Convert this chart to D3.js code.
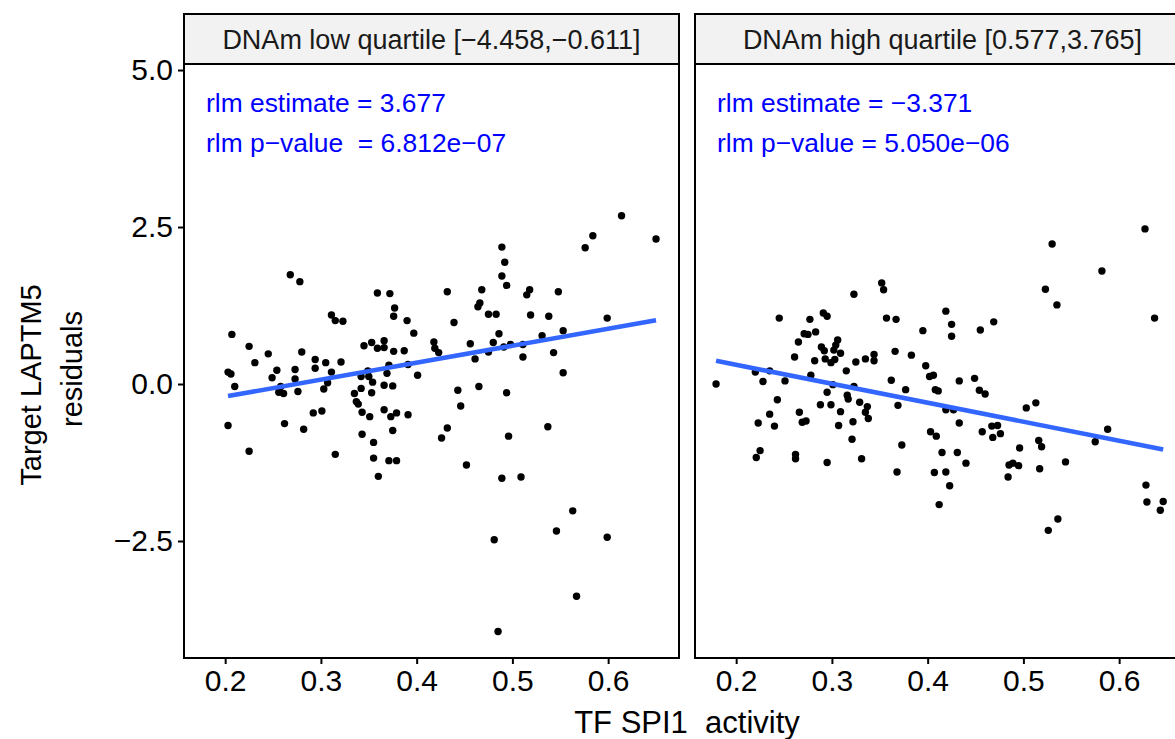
<!DOCTYPE html>
<html>
<head>
<meta charset="utf-8">
<script src="https://cdn.jsdelivr.net/npm/d3@7"></script>
<style>
body { margin: 0; background: #fff; }
text { font-family: "Liberation Sans", Arial, Helvetica, sans-serif; }
</style>
</head>
<body>
<script>
// SPI1 activity vs LAPTM5 residuals, DNAm low quartile
var lowX = [0.268,0.278,0.359,0.372,0.377,0.376,0.311,0.315,0.323,0.390,
  0.397,0.207,0.225,0.245,0.280,0.231,0.294,0.305,0.321,0.345,
  0.353,0.359,0.366,0.366,0.376,0.387,0.418,0.419,0.423,0.203,
  0.206,0.254,0.273,0.294,0.311,0.249,0.273,0.210,0.258,0.256,
  0.261,0.276,0.307,0.303,0.349,0.342,0.350,0.354,0.371,0.369,
  0.391,0.401,0.366,0.375,0.342,0.335,0.353,0.337,0.339,0.343,
  0.351,0.366,0.373,0.379,0.391,0.292,0.301,0.203,0.262,0.282,
  0.375,0.343,0.355,0.225,0.315,0.355,0.371,0.379,0.360,
  0.614,0.584,0.576,0.650,0.489,0.492,0.489,0.494,0.432,0.468,
  0.466,0.464,0.518,0.515,0.548,0.439,0.475,0.483,0.519,0.538,
  0.599,0.486,0.456,0.480,0.475,0.491,0.498,0.511,0.531,0.553,
  0.461,0.511,0.543,0.553,0.443,0.465,0.494,0.446,0.432,0.426,
  0.496,0.537,0.452,0.489,0.509,0.563,0.546,0.481,0.599,0.567,0.485];
var lowY = [1.74,1.63,1.45,1.44,1.21,1.08,1.10,1.01,1.00,1.01,
  0.81,0.79,0.60,0.48,0.51,0.34,0.39,0.34,0.35,0.61,
  0.66,0.57,0.69,0.58,0.52,0.53,0.67,0.57,0.50,0.19,
  0.16,0.22,0.23,0.25,0.19,0.10,0.08,-0.04,-0.04,-0.13,
  -0.15,-0.12,0.02,-0.08,0.21,0.12,0.12,0.03,0.30,0.17,
  0.31,0.14,-0.02,-0.03,-0.07,-0.15,-0.14,-0.28,-0.32,-0.45,
  -0.52,-0.41,-0.52,-0.46,-0.49,-0.46,-0.43,-0.66,-0.63,-0.72,
  -0.74,-0.80,-0.93,-1.07,-1.12,-1.18,-1.22,-1.22,-1.47,
  2.68,2.36,2.17,2.31,2.18,1.94,1.72,1.57,1.47,1.50,
  1.29,1.23,1.50,1.42,1.47,0.98,1.11,1.11,1.10,1.08,
  1.05,0.80,0.64,0.66,0.51,0.59,0.63,0.63,0.77,0.85,
  0.40,0.43,0.50,0.18,-0.10,-0.04,-0.14,-0.35,-0.70,-0.86,
  -0.83,-0.68,-1.29,-1.50,-1.48,-2.02,-2.34,-2.48,-2.44,-3.38,-3.94];

// DNAm high quartile
var highX = [0.627,0.530,0.582,0.523,0.535,0.637,0.352,0.354,0.323,0.245,
  0.277,0.291,0.295,0.357,0.367,0.419,0.395,0.425,0.425,0.455,
  0.469,0.283,0.271,0.275,0.265,0.289,0.292,0.306,0.304,0.302,
  0.309,0.261,0.282,0.293,0.299,0.303,0.325,0.335,0.344,0.344,
  0.366,0.383,0.398,0.402,0.406,0.315,0.220,0.235,0.228,0.251,
  0.278,0.179,0.301,0.323,0.362,0.295,0.316,0.317,0.377,0.408,
  0.411,0.243,0.288,0.299,0.329,0.337,0.369,0.235,0.266,0.309,
  0.335,0.338,0.223,0.240,0.269,0.273,0.307,0.322,0.403,0.409,
  0.419,0.427,0.321,0.373,0.225,0.221,0.262,0.262,0.295,0.331,
  0.368,0.407,0.419,0.423,0.412,0.415,0.431,0.440,0.433,0.449,
  0.454,0.460,0.503,0.513,0.433,0.457,0.467,0.473,0.476,0.468,
  0.516,0.519,0.496,0.588,0.575,0.485,0.489,0.495,0.484,0.517,
  0.544,0.536,0.526,0.628,0.629,0.646,0.643];
var highY = [2.47,2.23,1.80,1.51,1.26,1.05,1.61,1.50,1.43,1.05,
  1.03,1.13,1.08,1.05,1.03,1.16,0.85,0.95,0.76,0.86,
  0.99,0.83,0.80,0.79,0.67,0.59,0.53,0.70,0.62,0.54,
  0.49,0.43,0.37,0.40,0.34,0.39,0.35,0.40,0.47,0.37,
  0.52,0.46,0.29,0.12,0.14,0.21,0.19,0.21,0.04,0.05,
  0.14,0.00,-0.01,-0.04,0.06,-0.13,-0.18,-0.24,-0.09,-0.09,
  -0.11,-0.25,-0.33,-0.33,-0.29,-0.36,-0.34,-0.48,-0.45,-0.44,
  -0.45,-0.55,-0.62,-0.67,-0.61,-0.59,-0.66,-0.60,-0.76,-0.83,
  -0.41,-0.41,-0.88,-0.97,-1.06,-1.17,-1.12,-1.19,-1.25,-1.19,
  -1.40,-1.41,-1.40,-1.62,-1.92,-1.09,-1.09,-1.26,0.05,0.09,
  -0.10,-0.16,-0.38,-0.30,-0.62,-0.76,-0.67,-0.66,-0.79,-0.85,
  -0.90,-1.00,-1.02,-0.72,-0.92,-1.29,-1.26,-1.30,-1.48,-1.35,
  -1.24,-2.15,-2.33,-1.61,-1.88,-1.87,-2.01];

// fitted lines: [intercept, slope]
var lowFit = [-0.740, 2.70];
var highFit = [0.910, -3.02];

var stripLabels = ["DNAm low quartile [\u22124.458,\u22120.611]", "DNAm high quartile [0.577,3.765]"];
var statLabels = [
  ["rlm estimate = 3.677", "rlm p\u2212value  = 6.812e\u221207"],
  ["rlm estimate = \u22123.371", "rlm p\u2212value = 5.050e\u221206"]
];
var xTicks = [0.2, 0.3, 0.4, 0.5, 0.6];
var yTicks = [-2.5, 0, 2.5, 5];

var W = 1175, H = 739;
var panelW = 495, panelTop = 64, panelBottom = 658, stripTop = 14;
var panelLefts = [184, 695];

var svg = d3.select("body").append("svg")
  .attr("width", W)
  .attr("height", H);

var x = d3.scaleLinear().domain([0.157, 0.674]).range([0, panelW]);
var y = d3.scaleLinear().domain([-4.363, 5.096]).range([panelBottom, panelTop]);

var panels = [
  { xs: lowX, ys: lowY, fit: lowFit },
  { xs: highX, ys: highY, fit: highFit }
];

panels.forEach(function(p, i) {
  var g = svg.append("g").attr("transform", "translate(" + panelLefts[i] + ",0)");

  var pts = p.xs.map(function(d, j) { return [d, p.ys[j]]; });

  g.selectAll("circle")
    .data(pts)
    .enter().append("circle")
    .attr("cx", function(d) { return x(d[0]); })
    .attr("cy", function(d) { return y(d[1]); })
    .attr("r", 3.7)
    .style("fill", "black");

  var ext = d3.extent(p.xs);
  var line = d3.line()
    .x(function(d) { return x(d); })
    .y(function(d) { return y(p.fit[0] + p.fit[1] * d); });
  g.append("path")
    .datum(ext)
    .attr("d", line)
    .style("fill", "none")
    .style("stroke", "#3366FF")
    .style("stroke-width", 4.6);

  // stats text
  g.selectAll("text.stat")
    .data(statLabels[i])
    .enter().append("text")
    .attr("class", "stat")
    .attr("x", x(0.18))
    .attr("y", function(d, k) { return y(k === 0 ? 4.49 : 3.84); })
    .attr("dy", "0.36em")
    .style("white-space", "pre")
    .style("font-size", "26.4px")
    .style("fill", "#0000FF")
    .text(function(d) { return d; });

  // panel border
  g.append("rect")
    .attr("x", 0).attr("y", panelTop)
    .attr("width", panelW).attr("height", panelBottom - panelTop)
    .style("fill", "none")
    .style("stroke", "black")
    .style("stroke-width", 2);

  // strip
  g.append("rect")
    .attr("x", 0).attr("y", stripTop)
    .attr("width", panelW).attr("height", panelTop - stripTop)
    .style("fill", "#F2F2F2")
    .style("stroke", "black")
    .style("stroke-width", 2);
  g.append("text")
    .attr("x", panelW / 2)
    .attr("y", (stripTop + panelTop) / 2)
    .attr("dy", "0.36em")
    .attr("text-anchor", "middle")
    .style("font-size", "27px")
    .style("fill", "#1A1A1A")
    .text(stripLabels[i]);

  // x axis
  var xa = g.append("g")
    .attr("transform", "translate(0," + panelBottom + ")")
    .call(d3.axisBottom(x).tickValues(xTicks).tickFormat(d3.format(".1f"))
      .tickSize(6).tickSizeOuter(0).tickPadding(6));
  xa.select(".domain").remove();
  xa.selectAll("line").style("stroke", "black").style("stroke-width", 2);
  xa.selectAll("text").style("font-size", "30px").style("fill", "black")
    .attr("font-family", null);

  if (i === 0) {
    var ya = g.append("g")
      .call(d3.axisLeft(y).tickValues(yTicks).tickFormat(d3.format(".1f"))
        .tickSize(6).tickSizeOuter(0).tickPadding(5));
    ya.select(".domain").remove();
    ya.selectAll("line").style("stroke", "black").style("stroke-width", 2);
    ya.selectAll("text").style("font-size", "30px").style("fill", "black")
      .attr("font-family", null);
  }
});

// axis titles
svg.append("text")
  .attr("x", 687)
  .attr("y", 733)
  .attr("text-anchor", "middle")
  .style("white-space", "pre")
  .style("font-size", "31px")
  .style("fill", "black")
  .text("TF SPI1  activity");

var yTitle = svg.append("text")
  .attr("transform", "rotate(-90)")
  .attr("text-anchor", "middle")
  .style("font-size", "29px")
  .style("fill", "black");
yTitle.append("tspan").attr("x", -385).attr("y", 41).text("Target LAPTM5");
yTitle.append("tspan").attr("x", -369).attr("y", 82).text("residuals");
</script>
</body>
</html>
